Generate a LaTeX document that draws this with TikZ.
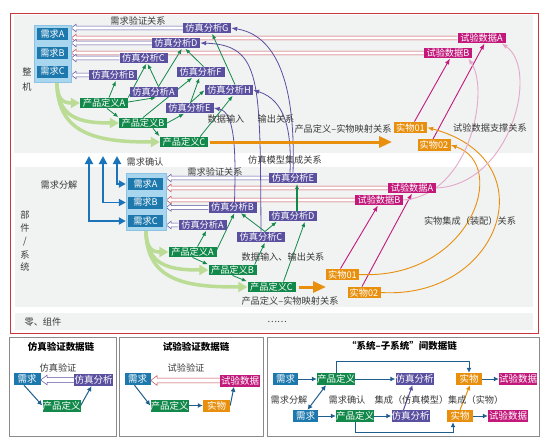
\documentclass[tikz,border=0pt]{standalone}
\usepackage{fontspec}
\setmainfont{Noto Sans CJK SC}
\usetikzlibrary{arrows.meta,calc}
\pgfdeclarelayer{back}
\pgfdeclarelayer{mid}
\pgfsetlayers{back,mid,main}
\newcommand\myfs[1]{\fontsize{#1}{#1}\selectfont}
\newcommand\hollowarrow[4][1]{%
  \draw[#2, line width=0.5pt, fill=white] let \p1=(#3), \p2=(#4) in
   ({\x1},{\y1+1.8pt*#1}) -- ({\x2+5pt*#1},{\y1+1.8pt*#1}) -- ({\x2+5pt*#1},{\y1+3.8pt*#1})
   -- ({\x2},{\y1}) -- ({\x2+5pt*#1},{\y1-3.8pt*#1}) -- ({\x2+5pt*#1},{\y1-1.8pt*#1}) -- ({\x1},{\y1-1.8pt*#1});}
\definecolor{cReq}{HTML}{1D78AD}
\definecolor{cReqF}{HTML}{A9D6EF}
\definecolor{cDef}{HTML}{12894A}
\definecolor{cSim}{HTML}{5A50A0}
\definecolor{cTst}{HTML}{C2197B}
\definecolor{cObj}{HTML}{E8900E}
\definecolor{cPink}{HTML}{E4A8C8}
\definecolor{cLg}{HTML}{BADC95}
\definecolor{cBlue}{HTML}{1B73BA}
\definecolor{cFrame}{HTML}{C8373D}
\definecolor{cPanel}{HTML}{F1F2F2}
\definecolor{cRed}{HTML}{C9434B}
\definecolor{cDark}{HTML}{1F5E8C}
\definecolor{cGray}{HTML}{8A8A8A}
\definecolor{cTxt}{HTML}{3A3A3A}
\tikzset{
 box/.style={text=white, inner sep=0pt, minimum height=10.5, font=\myfs{9.2}},
 req/.style={box, fill=cReq, minimum width=31, minimum height=12},
 def/.style={box, fill=cDef, minimum width=48},
 sim/.style={box, fill=cSim, minimum width=48},
 tst/.style={box, fill=cTst, minimum width=48},
 obj/.style={box, fill=cObj, minimum width=33, minimum height=11.5},
 frm/.style={fill=cReqF, draw=cReqF!80!cReq, line width=0.4pt, inner sep=0pt},
 lbl/.style={text=cTxt, inner sep=0pt, font=\myfs{9.2}},
 ttl/.style={text=black, inner sep=0pt, font=\myfs{9.5}\bfseries},
 pbox/.style={text=white, inner sep=0pt, minimum height=12, font=\myfs{9.5}},
 ga/.style={cDef, line width=0.8pt, -{Latex[length=5pt,width=4pt]}, shorten >=0.5pt},
 pc/.style={cSim, line width=0.8pt, -{Latex[length=6pt,width=4.5pt]}},
 ma/.style={cTst, line width=0.9pt, -{Latex[length=6pt,width=4.5pt]}},
 oc/.style={cObj, line width=0.9pt, -{Latex[length=6pt,width=4.5pt]}},
 pk/.style={cPink, line width=0.9pt, -{Latex[length=6pt,width=4.5pt]}},
 lg/.style={cLg, line width=3.5pt, -{Triangle[length=9pt,width=10pt]}},
 oth/.style={cObj, line width=3pt, -{Triangle[length=13pt,width=11pt]}},
 bl/.style={cBlue, line width=1.8pt, {Triangle[length=8pt,width=8pt]}-{Triangle[length=7pt,width=7pt]}},
 pa/.style={cDark, line width=1pt, -{Latex[length=5pt,width=5pt]}},
}
\begin{document}
\begin{tikzpicture}[x=1pt,y=-1pt]
\useasboundingbox (0,0) rectangle (550,442);
% ---------- upper layer nodes
\node[frm, minimum width=37, minimum height=57] (F1) at (52.5,53.5) {};
\node[req] (rA) at (52.5,34) {需求A};
\node[req] (rB) at (52.5,53) {需求B};
\node[req] (rC) at (52.5,71.5) {需求C};
\node[sim] (uG) at (207,28) {仿真分析G};
\node[sim] (uD) at (176,43) {仿真分析D};
\node[sim] (uC) at (143.5,58) {仿真分析C};
\node[sim] (uB) at (113,75) {仿真分析B};
\node[sim] (uF) at (200.5,72) {仿真分析F};
\node[sim] (uA) at (153.5,92) {仿真分析A};
\node[sim] (uH) at (229,90) {仿真分析H};
\node[sim] (uE) at (189.5,108) {仿真分析E};
\node[def] (udA) at (104,103) {产品定义A};
\node[def] (udB) at (143,123) {产品定义B};
\node[def] (udC) at (184,142) {产品定义C};
\node[tst] (utA) at (481.5,38) {试验数据A};
\node[tst] (utB) at (448,53) {试验数据B};
\node[obj] (uo1) at (410.5,127.5) {实物01};
\node[obj] (uo2) at (434,145) {实物02};
% ---------- lower layer nodes
\node[frm, minimum width=40, minimum height=57] (F2) at (146,201.5) {};
\node[req, minimum width=35] (lrA) at (145.5,184) {需求A};
\node[req, minimum width=35] (lrB) at (145.5,202.5) {需求B};
\node[req, minimum width=35] (lrC) at (145.5,221) {需求C};
\node[sim] (lE) at (293,178) {仿真分析E};
\node[sim] (lB) at (232.5,207.5) {仿真分析B};
\node[sim] (lD) at (293,216) {仿真分析D};
\node[sim] (lA) at (202.5,225) {仿真分析A};
\node[sim] (lC) at (261,237) {仿真分析C};
\node[def] (ldA) at (192.5,252) {产品定义A};
\node[def] (ldB) at (232.5,270) {产品定义B};
\node[def] (ldC) at (271.5,287) {产品定义C};
\node[tst] (ltA) at (412,188) {试验数据A};
\node[tst] (ltB) at (379,200) {试验数据B};
\node[obj] (lo1) at (342.5,274.5) {实物01};
\node[obj] (lo2) at (364,292.5) {实物02};
% ---------- labels
\node[lbl] (t1) at (138,21) {需求验证关系};
\node[lbl] (t2) at (226,119) {数据输入};
\node[lbl] (t3) at (276,119) {输出关系};
\node[lbl] (t4) at (343,129) {产品定义–实物映射关系};
\node[lbl] (t5) at (490,128) {试验数据支撑关系};
\node[lbl] (t6) at (145,162) {需求确认};
\node[lbl] (t7) at (285,160) {仿真模型集成关系};
\node[lbl] (t8) at (59,185) {需求分解};
\node[lbl] (t9) at (215,172) {需求验证关系};
\node[lbl] (t10) at (283,257) {数据输入、输出关系};
\node[lbl] (t11) at (290,301) {产品定义–实物映射关系};
\node[lbl] (t12) at (470,221) {实物集成（装配）关系};
\node[lbl] (t13) at (43,322) {零、组件};
\node[lbl] (t14) at (277,322) {……};
\node[lbl] (v1) at (27,72) {整};
\node[lbl] (v2) at (27,87) {机};
\node[lbl] (v3) at (25,215) {部};
\node[lbl] (v4) at (25,228) {件};
\node[lbl] (v5) at (25,242) {/};
\node[lbl] (v6) at (25,255) {系};
\node[lbl] (v7) at (25,267) {统};
% ---------- bottom panels
\node[ttl] (T1) at (61,347) {仿真验证数据链};
\node[ttl] (T2) at (196,347) {试验验证数据链};
\node[ttl] (T3) at (402,346) {“系统–子系统”间数据链};
\node[lbl] (b1) at (58,368) {仿真验证};
\node[lbl] (b2) at (186,368) {试验验证};
\node[lbl] (b3) at (289,400) {需求分解};
\node[lbl] (b4) at (347,400) {需求确认};
\node[lbl] (b5) at (439,400) {集成（仿真模型）集成（实物）};
\node[pbox, fill=cReq, minimum width=27] (q1) at (27,379) {需求};
\node[pbox, fill=cSim, minimum width=39] (s1) at (93.5,380) {仿真分析};
\node[pbox, fill=cDef, minimum width=37] (d1) at (61.5,405.5) {产品定义};
\node[pbox, fill=cReq, minimum width=26] (q2) at (137.5,379) {需求};
\node[pbox, fill=cTst, minimum width=40] (tt2) at (240,380.5) {试验数据};
\node[pbox, fill=cDef, minimum width=37] (d2) at (169.5,405.5) {产品定义};
\node[pbox, fill=cObj, minimum width=27] (o2p) at (216.5,405.5) {实物};
\node[pbox, fill=cReq, minimum width=25] (r1q) at (285.5,379) {需求};
\node[pbox, fill=cDef, minimum width=38] (r1d) at (336,379) {产品定义};
\node[pbox, fill=cSim, minimum width=37] (r1s) at (414.5,379) {仿真分析};
\node[pbox, fill=cObj, minimum width=26] (r1o) at (469,379) {实物};
\node[pbox, fill=cTst, minimum width=38] (r1t) at (518,379) {试验数据};
\node[pbox, fill=cReq, minimum width=25] (r2q) at (305.5,416) {需求};
\node[pbox, fill=cDef, minimum width=38] (r2d) at (355,416) {产品定义};
\node[pbox, fill=cSim, minimum width=37] (r2s) at (410.5,416) {仿真分析};
\node[pbox, fill=cObj, minimum width=26] (r2o) at (460,416) {实物};
\node[pbox, fill=cTst, minimum width=40] (r2t) at (508,416) {试验数据};
% ---------- free ends
\coordinate (oe1) at (392,142);
\coordinate (oe2) at (326,287);
\coordinate (u1) at (117,156);
\coordinate (u2) at (103,156);
\coordinate (u3) at (89,156);
% ---------- backgrounds
\begin{pgfonlayer}{back}
\fill[cPanel] (14,15) rectangle (533,153);
\fill[cPanel] (15,167) rectangle (533,307);
\fill[cPanel] (15,313) rectangle (533,330);
\draw[cFrame, line width=1pt] (10.5,13) rectangle (538.5,333.5);
\draw[cGray, line width=0.8pt] (9,337) rectangle (116,436);
\draw[cGray, line width=0.8pt] (119,337) rectangle (263,436);
\draw[cGray, line width=0.8pt] (267,337) rectangle (539,436);
\end{pgfonlayer}
% ---------- connectors
\begin{pgfonlayer}{mid}
% hollow verification arrows, upper
\hollowarrow{cSim}{uG.west}{uG.west -| F1.east}
\hollowarrow{cRed}{utA.west}{utA.west -| F1.east}
\hollowarrow{cSim}{uD.west}{uD.west -| F1.east}
\hollowarrow{cRed}{utB.west}{utB.west -| F1.east}
\hollowarrow{cSim}{uC.west}{uC.west -| F1.east}
\hollowarrow{cSim}{uB.west}{uB.west -| F1.east}
% hollow, lower
\hollowarrow{cSim}{lE.west}{lE.west -| F2.east}
\hollowarrow{cRed}{ltA.west}{ltA.west -| F2.east}
\hollowarrow{cRed}{ltB.west}{ltB.west -| F2.east}
\hollowarrow{cSim}{lB.west}{lB.west -| F2.east}
\hollowarrow{cSim}{lA.west}{lA.west -| F2.east}
% light green decomposition arrows
\coordinate (g1) at ([xshift=4.5pt]F1.south);
\draw[lg] (g1) .. controls (57,98) and (62,103) .. (udA.west);
\draw[lg] (g1) .. controls (57,118) and (80,123) .. (udB.west);
\draw[lg] (g1) .. controls (57,136) and (100,142) .. (udC.west);
\draw[lg] (F2.south) .. controls (146,248) and (152,252) .. (ldA.west);
\draw[lg] (F2.south) .. controls (146,266) and (170,270) .. (ldB.west);
\draw[lg] (F2.south) .. controls (146,283) and (190,287) .. (ldC.west);
% blue requirement confirmation arrows
\draw[bl] (u1) |- (lrA.west -| F2.west);
\draw[bl] (u2) |- (lrB.west -| F2.west);
\draw[bl] (u3) |- (lrC.west -| F2.west);
% upper green arrows
\draw[ga] ([xshift=5pt]udA.north) -- ([xshift=3pt]uB.south);
\draw[ga] (udA.north east) -- ([xshift=3pt]uC.south);
\draw[ga] ([yshift=1pt]udA.east) -- ([xshift=3pt]uA.south);
\draw[ga] ([xshift=5pt]uA.north) -- ([xshift=4pt]uC.south);
\draw[ga] ([xshift=5pt]uA.north) -- ([xshift=6pt]uD.south);
\draw[ga] ([xshift=3pt]uF.north) -- ([xshift=9pt]uD.south);
\draw[ga] ([xshift=3pt]udA.south) -- (udB.north west);
\draw[ga] (udB.east) -- ([xshift=-5pt]uE.south);
\draw[ga] (udB.north) -- ([xshift=-8pt]uF.south);
\draw[ga] ([xshift=1pt]uE.north) -- ([xshift=-1pt]uF.south);
\draw[ga] ([xshift=1pt]uE.north) -- (uH.west);
\draw[ga] ([xshift=10pt]udB.south) -- (udC.north west);
\draw[ga] ([xshift=-8pt]udC.north east) -- ([xshift=4pt]uH.south);
\draw[ga] ([xshift=6pt]uH.north) -- ([xshift=5pt]uG.south);
% lower green arrows
\draw[ga] ([xshift=5pt]ldA.north) -- ([xshift=4pt]lA.south);
\draw[ga] ([yshift=2pt]ldA.east) -- ([xshift=2pt]lB.south);
\draw[ga] (ldA.south) -- (ldB.north west);
\draw[ga] ([xshift=-2pt]ldB.north east) -- ([xshift=4pt]lC.south);
\draw[ga] (ldB.south) -- (ldC.north west);
\draw[ga] ([xshift=4pt]lC.north) -- ([xshift=8pt]lB.south);
\draw[ga] ([xshift=4pt]lC.north) -- ([xshift=-16pt]lD.south);
\draw[ga] ([xshift=12pt]ldC.north) -- ([xshift=12pt]lD.south);
\draw[ga, line width=1.2pt] ([xshift=4pt]lD.north) -- ([xshift=4pt]lE.south);
% purple integration curves
\draw[pc] ([xshift=0pt]lE.north) .. controls (296,80) and (275,35) .. (uG.east);
\draw[pc] ([xshift=-3pt]lE.north) .. controls (292,130) and (285,100) .. (uH.east);
\draw[pc] ([xshift=2pt]lB.north) .. controls (236,150) and (235,112) .. (uE.east);
\draw[pc] (lC.north) .. controls (260,80) and (262,45) .. (uD.east);
% orange mapping arrows
\draw[oth, shorten <=2pt] (udC.east) -- (oe1);
\draw[oth, shorten <=3pt] (ldC.east) -- (oe2);
% magenta test arrows
\draw[ma] ([xshift=4pt]uo1.north) -- ([xshift=2pt]utB.south);
\draw[ma] ([xshift=-1pt]uo2.north) -- ([xshift=3pt]utA.south);
\draw[ma] ([xshift=-2pt]lo1.north) -- ([xshift=-1pt]ltB.south);
\draw[ma] ([xshift=-2pt]lo2.north) -- ([xshift=0pt]ltA.south);
% orange assembly curves
\draw[oc] (lo1.east) .. controls (470,280) and (510,165) .. (uo2.east);
\draw[oc] (lo2.east) .. controls (500,300) and (550,160) .. (uo1.east);
% pink test support curves
\draw[pk] (ltA.east) .. controls (510,185) and (540,70) .. ([xshift=-4pt]utA.south east);
\draw[pk] (ltB.east) .. controls (470,195) and (490,90) .. ([xshift=-4pt]utB.south east);
% bottom panel 1
\hollowarrow[1.3]{cSim}{s1.west}{s1.west -| q1.east}
\draw[pa] ([xshift=-3pt]q1.south) -- (d1.west);
\draw[pa] (d1.east) -- ([xshift=-2pt]s1.south);
% bottom panel 2
\hollowarrow[1.3]{cRed}{tt2.west}{tt2.west -| q2.east}
\draw[pa] ([xshift=-3pt]q2.south) -- (d2.west);
\draw[pa] (d2.east) -- (o2p.west);
\draw[pa] (o2p.east) -- ([xshift=-6pt]tt2.south);
% bottom panel 3
\draw[pa] (r1q.east) -- (r1d.west);
\draw[pa] (r1d.east) -- (r1s.west);
\draw[pa] (r1o.east) -- (r1t.west);
\draw[pa] (r2q.east) -- (r2d.west);
\draw[pa] (r2d.east) -- (r2s.west);
\draw[pa] (r2o.east) -- (r2t.west);
\draw[pa, {Latex[length=5pt,width=5pt]}-{Latex[length=5pt,width=5pt]}] ([xshift=2pt]r2q.north) -- ([xshift=-10pt]r1d.south);
\draw[pa, cSim] ([xshift=-7pt]r2s.north) -- ([xshift=-2pt]r1s.south);
\draw[pa, cObj] (r2o.north) -- ([xshift=1pt]r1o.south);
\draw[pa] (r1d.north) -- ++(0,-11) -| (r1o.north);
\draw[pa] (r2d.south) -- ++(0,10) -| ([xshift=-7pt]r2o.south);
\end{pgfonlayer}
\end{tikzpicture}
\end{document}
